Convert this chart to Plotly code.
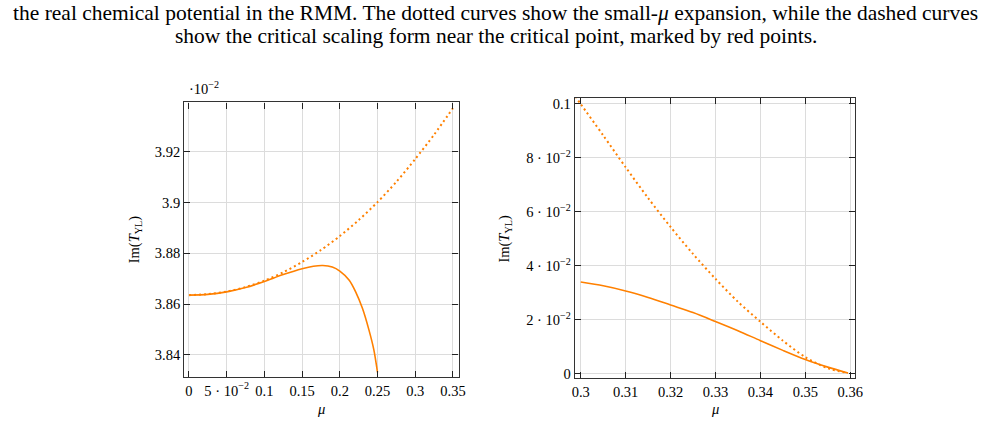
import plotly.graph_objects as go

# ---- data (left panel, values in units of 1e-2) ----
mu_left_solid = [0.0, 0.025, 0.05, 0.075, 0.1, 0.125, 0.15, 0.165, 0.1775, 0.19, 0.2, 0.2125, 0.221, 0.23, 0.2385, 0.245, 0.25]
im_left_solid = [3.8635, 3.8638, 3.8648, 3.8665, 3.8689, 3.8716, 3.8739, 3.8749, 3.8752, 3.8746, 3.8730, 3.8694, 3.8648, 3.8583, 3.8499, 3.8421, 3.8330]

mu_left_dotted = [0.0, 0.025, 0.05, 0.075, 0.1, 0.125, 0.15, 0.175, 0.2, 0.225, 0.25, 0.275, 0.3, 0.325, 0.35]
im_left_dotted = [3.8635, 3.8639, 3.8649, 3.8667, 3.8692, 3.8725, 3.8766, 3.8813, 3.8868, 3.8931, 3.9002, 3.9082, 3.9172, 3.9268, 3.9373]

# ---- data (right panel) ----
mu_right_solid = [0.3, 0.305, 0.31, 0.315, 0.32, 0.325, 0.33, 0.335, 0.34, 0.345, 0.35, 0.355, 0.3595]
im_right_solid = [0.0339, 0.0325, 0.0306, 0.0282, 0.0254, 0.0226, 0.0193, 0.0159, 0.0122, 0.0086, 0.0052, 0.0024, 0.0002]

mu_right_dotted = [0.2988, 0.3, 0.305, 0.31, 0.315, 0.32, 0.325, 0.33, 0.335, 0.34, 0.345, 0.35, 0.355, 0.3595]
im_right_dotted = [0.1026, 0.0998, 0.0882, 0.0764, 0.0650, 0.0543, 0.0443, 0.0351, 0.0266, 0.0192, 0.0122, 0.0061, 0.0020, 0.0002]

left_xticks = [0, 0.05, 0.1, 0.15, 0.2, 0.25, 0.3, 0.35]
left_xlabels = ["0", "5 · 10<sup>−2</sup>", "0.1", "0.15", "0.2", "0.25", "0.3", "0.35"]
left_yticks = [3.84, 3.86, 3.88, 3.9, 3.92]
left_ylabels = ["3.84", "3.86", "3.88", "3.9", "3.92"]
right_xticks = [0.3, 0.31, 0.32, 0.33, 0.34, 0.35, 0.36]
right_xlabels = ["0.3", "0.31", "0.32", "0.33", "0.34", "0.35", "0.36"]
right_yticks = [0, 0.02, 0.04, 0.06, 0.08, 0.1]
right_ylabels = ["0", "2 · 10<sup>−2</sup>", "4 · 10<sup>−2</sup>", "6 · 10<sup>−2</sup>", "8 · 10<sup>−2</sup>", "0.1"]

caption_1 = "the real chemical potential in the RMM. The dotted curves show the small-<i>μ</i> expansion, while the dashed curves"
caption_2 = "show the critical scaling form near the critical point, marked by red points."

ORANGE = "#ff8000"
FONT = "'Liberation Serif', 'DejaVu Serif', serif"

fig = go.Figure()
fig.add_trace(go.Scatter(x=mu_left_dotted, y=im_left_dotted, mode="lines", xaxis="x", yaxis="y",
                         line=dict(color=ORANGE, width=2, dash="2px,3px", shape="spline", smoothing=0.8),
                         showlegend=False, name="small-μ expansion"))
fig.add_trace(go.Scatter(x=mu_left_solid, y=im_left_solid, mode="lines", xaxis="x", yaxis="y",
                         line=dict(color=ORANGE, width=1.6, shape="spline", smoothing=0.8),
                         showlegend=False, name="Im(T_YL)"))
fig.add_trace(go.Scatter(x=mu_right_dotted, y=im_right_dotted, mode="lines", xaxis="x2", yaxis="y2",
                         line=dict(color=ORANGE, width=2, dash="2px,3px", shape="spline", smoothing=0.8),
                         showlegend=False, name="small-μ expansion"))
fig.add_trace(go.Scatter(x=mu_right_solid, y=im_right_solid, mode="lines", xaxis="x2", yaxis="y2",
                         line=dict(color=ORANGE, width=1.6, shape="spline", smoothing=0.8),
                         showlegend=False, name="Im(T_YL)"))

W, H = 996, 423
L1, R1, T1, B1 = 183.3, 460.7, 101.7, 379.5
L2, R2, T2, B2 = 578.3, 861.7, 97.3, 380.7

axis_common = dict(showline=True, linecolor="#333333", linewidth=1.3, mirror="ticks",
                   ticks="inside", ticklen=6, tickwidth=1.2, tickcolor="#222222",
                   showgrid=True, gridcolor="#dcdcdc", gridwidth=1, zeroline=False,
                   tickfont=dict(family=FONT, size=14.5, color="black"))

fig.update_layout(
    width=W, height=H, margin=dict(l=0, r=0, t=0, b=0),
    paper_bgcolor="white", plot_bgcolor="white",
    font=dict(family=FONT, color="black", size=14),
    xaxis=dict(domain=[L1 / W, R1 / W], range=[-0.0062, 0.3575], tickvals=left_xticks, ticktext=left_xlabels,
               anchor="y", ticklabelstandoff=0, **axis_common),
    yaxis=dict(domain=[1 - B1 / H, 1 - T1 / H], range=[3.8312, 3.9395], tickvals=left_yticks, ticktext=left_ylabels,
               anchor="x", **axis_common),
    xaxis2=dict(domain=[L2 / W, R2 / W], range=[0.2987, 0.3611], tickvals=right_xticks, ticktext=right_xlabels,
                anchor="y2", ticklabelstandoff=0, **axis_common),
    yaxis2=dict(domain=[1 - B2 / H, 1 - T2 / H], range=[-0.0017, 0.102], tickvals=right_yticks, ticktext=right_ylabels,
                anchor="x2", **axis_common),
)

ann = []
ann.append(dict(text=caption_1, x=0.5, y=1 - 11 / H, xref="paper", yref="paper", showarrow=False,
                xanchor="center", yanchor="middle", font=dict(family=FONT, size=21.5, color="black")))
ann.append(dict(text=caption_2, x=0.5, y=1 - 34 / H, xref="paper", yref="paper", showarrow=False,
                xanchor="center", yanchor="middle", font=dict(family=FONT, size=21.5, color="black")))
# scale factor
ann.append(dict(text="·10<sup>−2</sup>", x=186 / W, y=1 - 87 / H, xref="paper", yref="paper", showarrow=False,
                xanchor="left", yanchor="middle", font=dict(family=FONT, size=14.5, color="black")))
# axis titles
for cx in [(L1 + R1) / 2 / W, (L2 + R2) / 2 / W]:
    ann.append(dict(text="<i>μ</i>", x=cx, y=1 - 412 / H, xref="paper", yref="paper", showarrow=False,
                    xanchor="center", yanchor="middle", font=dict(family=FONT, size=14.5, color="black")))
for cx, cy in [(133 / W, (T1 + B1) / 2), (508 / W, (T2 + B2) / 2)]:
    ann.append(dict(text="Im(<i>T</i><sub>YL</sub>)", x=cx, y=1 - cy / H, xref="paper", yref="paper",
                    showarrow=False, textangle=-90, xanchor="center", yanchor="middle",
                    font=dict(family=FONT, size=14.5, color="black")))
fig.update_layout(annotations=ann)

fig.write_html("out.html")
